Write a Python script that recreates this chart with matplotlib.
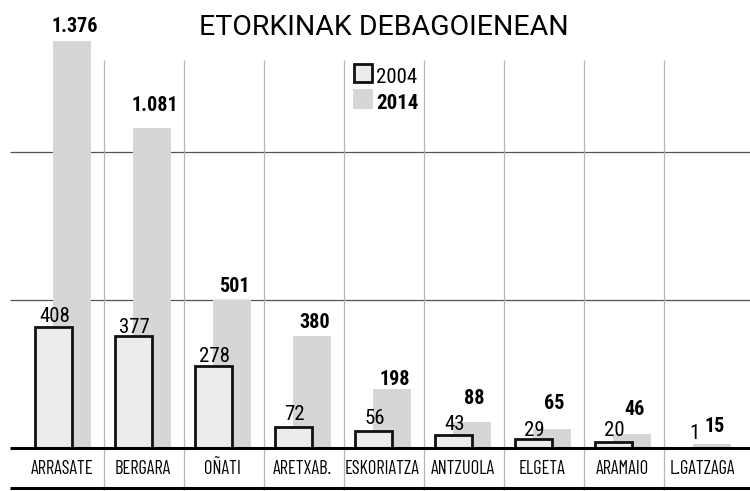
import matplotlib
matplotlib.use("Agg")
import matplotlib.pyplot as plt
import numpy as np
from matplotlib.patches import Rectangle

# --- data ---
towns = ['ARRASATE', 'BERGARA', 'OÑATI', 'ARETXAB.', 'ESKORIATZA',
         'ANTZUOLA', 'ELGETA', 'ARAMAIO', 'L.GATZAGA']
y2004 = [408, 377, 278, 72, 56, 43, 29, 20, 1]
y2014 = [1376, 1081, 501, 380, 198, 88, 65, 46, 15]
labels2014 = ['1.376', '1.081', '501', '380', '198', '88', '65', '46', '15']

# label lift above bar tops (value units), hand-placed like the original
lift2004 = [19, 13, 12, 23, 25, 18, 13, 22, 28]
lift2014 = [29, 57, 27, 25, 15, 61, 66, 65, 40]

W, H = 750, 491
scale = 0.296          # pixels per person
base_px = 448
ymin, ymax = (base_px - H) / scale, base_px / scale
xmin, xmax = -64 / 80, (W - 64) / 80
line_start = (10 - 64) / 80

narrow = ['Roboto Condensed', 'DejaVu Sans']
cats = ['Barlow Condensed', 'DejaVu Sans']
c2004 = '#ebeceb'
c2014 = '#d5d6d8'

fig = plt.figure(figsize=(W / 100, H / 100), dpi=100)
ax = fig.add_axes([0, 0, 1, 1])
ax.set_xlim(xmin, xmax)
ax.set_ylim(ymin, ymax)
ax.set_axis_off()

x = np.arange(len(towns))

# frame lines
ax.hlines([500, 1000], line_start, xmax, color='#555555', lw=0.9, zorder=1)
ax.vlines(x[:-1] + 0.5, ymin, (base_px - 60) / scale, color='#b5b5b5', lw=0.9, zorder=1)

# bars
ax.bar(x + 0.1, y2014, width=0.47, color=c2014, zorder=2)
ax.bar(x - 0.135, y2004, width=0.46, facecolor=c2004, edgecolor='#111111',
       linewidth=2.0, zorder=3)

ax.hlines([0, (base_px - 488) / scale], line_start, xmax, color='black', lw=2.2, zorder=4)

# value labels
for i in range(len(towns)):
    ax.text(x[i] - 0.12, y2004[i] + lift2004[i], str(y2004[i]), ha='center',
            va='baseline', fontsize=15, family=narrow, zorder=5)
    ax.text(x[i] + 0.13, y2014[i] + lift2014[i], labels2014[i], ha='center',
            va='baseline', fontsize=14.5, fontweight='heavy', family=narrow, zorder=5)
    ax.text(x[i] - 0.02, (base_px - 473.5) / scale, towns[i], ha='center',
            va='baseline', fontsize=13.3, family=cats, zorder=5)

# title
ax.text(384 / W, 1 - 35 / H, 'ETORKINAK DEBAGOIENEAN', transform=ax.transAxes,
        ha='center', va='baseline', fontsize=20.5, family='Roboto')

# legend
ax.add_patch(Rectangle((354 / W, 1 - 82 / H), 18 / W, 18 / H, transform=ax.transAxes,
                       facecolor=c2004, edgecolor='#111111', lw=2.0, zorder=5))
ax.add_patch(Rectangle((353 / W, 1 - 108.5 / H), 20 / W, 19.5 / H, transform=ax.transAxes,
                       facecolor=c2014, edgecolor='none', zorder=5))
ax.text(376 / W, 1 - 82.7 / H, '2004', transform=ax.transAxes, ha='left',
        va='baseline', fontsize=15, family=narrow)
ax.text(376 / W, 1 - 109 / H, '2014', transform=ax.transAxes, ha='left',
        va='baseline', fontsize=15, fontweight='heavy', family=narrow)

fig.savefig('out.png', dpi=100)
